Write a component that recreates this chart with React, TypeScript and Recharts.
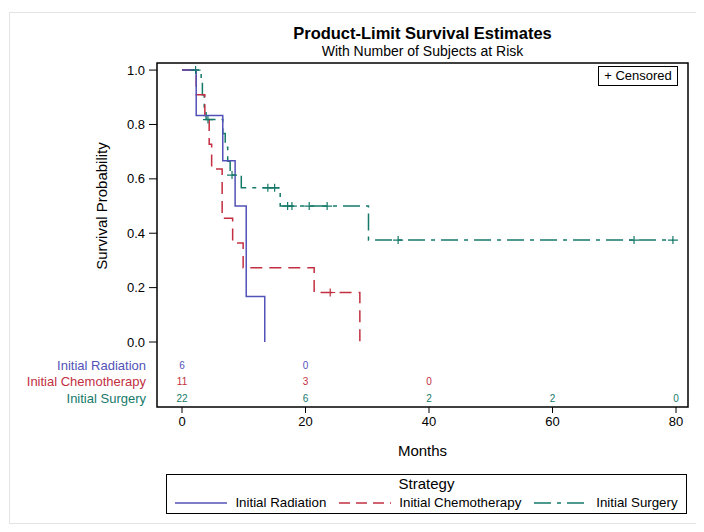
import { Line, LineChart, ReferenceArea, XAxis, YAxis } from 'recharts';

// Kaplan-Meier steps (months, survival)
const radiationTime = [0, 2.3, 6.6, 8.6, 10.4, 13.4];
const radiationSurv = [1, 0.833, 0.667, 0.5, 0.167, 0];
const radiationCensor: number[] = [];

const chemoTime = [0, 2.3, 3.7, 4.4, 4.8, 6.5, 8.2, 9.9, 21.4, 28.8];
const chemoSurv = [1, 0.909, 0.818, 0.727, 0.636, 0.455, 0.364, 0.273, 0.182, 0];
const chemoCensor = [24.0];

const surgeryTime = [0, 3.1, 3.3, 3.6, 3.9, 6.6, 7.0, 7.4, 7.8, 9.6, 15.9, 30.2];
const surgerySurv = [1, 0.955, 0.909, 0.864, 0.818, 0.767, 0.716, 0.665, 0.614, 0.567, 0.5, 0.375];
const surgeryCensor = [2.2, 4.2, 8.1, 13.9, 15.0, 17.1, 17.8, 20.6, 23.5, 35.0, 73.2, 79.5];

// number at risk
const riskTimes = [0, 20, 40, 60, 80];
const radiationRisk = [6, 0];
const chemoRisk = [11, 3, 0];
const surgeryRisk = [22, 6, 2, 2, 0];

const xTicks = [0, 20, 40, 60, 80];
const yTicks = [0, 0.2, 0.4, 0.6, 0.8, 1.0];

const BLUE = '#5252b8';
const RED = '#c22f41';
const GREEN = '#15796a';
const FONT = '"Liberation Sans", Arial, sans-serif';

const X_DOMAIN: [number, number] = [-4.05, 81.94];
const Y_DOMAIN: [number, number] = [-0.239, 1.026];

interface Pt {
  t: number;
  s: number;
  c: boolean;
}

function buildCurve(times: number[], surv: number[], censor: number[]): Pt[] {
  const pts: Pt[] = times.map((t, i) => ({ t, s: surv[i], c: false }));
  censor.forEach((t) => {
    let k = 0;
    times.forEach((tt, i) => {
      if (tt <= t) k = i;
    });
    pts.push({ t, s: surv[k], c: true });
  });
  return pts.sort((a, b) => a.t - b.t);
}

function riskRow(counts: number[], rowY: number) {
  return counts.map((n, i) => ({ t: riskTimes[i], s: rowY, n }));
}

const censorDot = (color: string) => (p: any) => {
  const { cx, cy, payload, index } = p;
  if (!payload || !payload.c) return <g key={`c${index}`} />;
  return (
    <path
      key={`c${index}`}
      d={`M${cx - 5},${cy}H${cx + 5}M${cx},${cy - 4}V${cy + 4}`}
      stroke={color}
      strokeWidth={1.2}
      strokeDasharray="none"
      fill="none"
    />
  );
};

const riskDot = (color: string, label: string) => (p: any) => {
  const { cx, cy, payload, index } = p;
  return (
    <g key={`r${index}`}>
      <text x={cx} y={cy} fill={color} fontSize={10} textAnchor="middle" dominantBaseline="central" fontFamily={FONT}>
        {payload.n}
      </text>
      {index === 0 && (
        <text x={cx - 36} y={cy} fill={color} fontSize={13} textAnchor="end" dominantBaseline="central" fontFamily={FONT}>
          {label}
        </text>
      )}
    </g>
  );
};

function LegendLine({ color, dash }: { color: string; dash?: string }) {
  return (
    <svg width={52} height={6} style={{ display: 'block' }}>
      <line x1={0} y1={3} x2={52} y2={3} stroke={color} strokeWidth={1.5} strokeDasharray={dash} />
    </svg>
  );
}

export default function App() {
  const radiation = buildCurve(radiationTime, radiationSurv, radiationCensor);
  const chemo = buildCurve(chemoTime, chemoSurv, chemoCensor);
  const surgery = buildCurve(surgeryTime, surgerySurv, surgeryCensor);

  return (
    <div style={{ position: 'relative', width: 688, height: 516, fontFamily: FONT, color: '#000' }}>
      <div
        style={{
          position: 'absolute',
          left: 1,
          top: 4,
          width: 688,
          height: 512,
          border: '1px solid #e4e4e4',
          boxSizing: 'border-box',
        }}
      />
      <div style={{ position: 'absolute', left: 149, top: 16, width: 531, textAlign: 'center', fontSize: 16.5, fontWeight: 'bold', lineHeight: '18px' }}>
        Product-Limit Survival Estimates
      </div>
      <div style={{ position: 'absolute', left: 149, top: 35, width: 531, textAlign: 'center', fontSize: 14, lineHeight: '16px' }}>
        With Number of Subjects at Risk
      </div>

      <LineChart width={688} height={516} margin={{ top: 55, right: 8, left: 89, bottom: 62 }} style={{ position: 'absolute', left: 0, top: 0 }}>
        <XAxis
          type="number"
          dataKey="t"
          domain={X_DOMAIN}
          ticks={xTicks}
          height={55}
          axisLine={false}
          tickSize={6}
          tickMargin={4}
          tickLine={{ stroke: '#000' }}
          tick={{ fill: '#000', fontSize: 13, fontFamily: FONT }}
        />
        <YAxis
          type="number"
          domain={Y_DOMAIN}
          ticks={yTicks}
          width={60}
          axisLine={false}
          tickSize={8}
          tickMargin={4}
          tickLine={{ stroke: '#000' }}
          tickFormatter={(v: number) => v.toFixed(1)}
          tick={{ fill: '#000', fontSize: 13, fontFamily: FONT }}
        />
        <ReferenceArea x1={X_DOMAIN[0]} x2={X_DOMAIN[1]} y1={Y_DOMAIN[0]} y2={Y_DOMAIN[1]} fill="none" stroke="#000" strokeWidth={1.5} />
        <Line
          data={surgery}
          dataKey="s"
          type="stepAfter"
          stroke={GREEN}
          strokeWidth={1.5}
          strokeDasharray="17 6 4 6"
          dot={censorDot(GREEN)}
          activeDot={false}
          isAnimationActive={false}
        />
        <Line
          data={chemo}
          dataKey="s"
          type="stepAfter"
          stroke={RED}
          strokeWidth={1.5}
          strokeDasharray="12 7"
          dot={censorDot(RED)}
          activeDot={false}
          isAnimationActive={false}
        />
        <Line
          data={radiation}
          dataKey="s"
          type="stepAfter"
          stroke={BLUE}
          strokeWidth={1.5}
          dot={censorDot(BLUE)}
          activeDot={false}
          isAnimationActive={false}
        />
        <Line data={riskRow(radiationRisk, -0.085)} dataKey="s" stroke="none" dot={riskDot(BLUE, 'Initial Radiation')} activeDot={false} isAnimationActive={false} />
        <Line data={riskRow(chemoRisk, -0.146)} dataKey="s" stroke="none" dot={riskDot(RED, 'Initial Chemotherapy')} activeDot={false} isAnimationActive={false} />
        <Line data={riskRow(surgeryRisk, -0.208)} dataKey="s" stroke="none" dot={riskDot(GREEN, 'Initial Surgery')} activeDot={false} isAnimationActive={false} />
      </LineChart>

      <div
        style={{
          position: 'absolute',
          left: 93,
          top: 198,
          transform: 'translate(-50%, -50%) rotate(-90deg)',
          whiteSpace: 'nowrap',
          fontSize: 15,
        }}
      >
        Survival Probability
      </div>
      <div style={{ position: 'absolute', left: 149, top: 434, width: 531, textAlign: 'center', fontSize: 15, lineHeight: '18px' }}>Months</div>

      <div
        style={{
          position: 'absolute',
          left: 590,
          top: 58,
          width: 80,
          height: 20,
          border: '1px solid #000',
          boxSizing: 'border-box',
          fontSize: 13,
          lineHeight: '18px',
          textAlign: 'center',
          background: '#fff',
        }}
      >
        + Censored
      </div>

      <div
        style={{
          position: 'absolute',
          left: 158,
          top: 466,
          width: 521,
          height: 40,
          border: '1px solid #000',
          boxSizing: 'border-box',
          fontSize: 13.3,
        }}
      >
        <div style={{ textAlign: 'center', fontSize: 15, lineHeight: '17px' }}>Strategy</div>
        <div style={{ display: 'flex', alignItems: 'center', justifyContent: 'center', lineHeight: '16px', marginTop: 3 }}>
          <LegendLine color={BLUE} />
          <span style={{ marginLeft: 8, marginRight: 13 }}>Initial Radiation</span>
          <LegendLine color={RED} dash="11 6" />
          <span style={{ marginLeft: 8, marginRight: 13 }}>Initial Chemotherapy</span>
          <LegendLine color={GREEN} dash="17 6 4 6" />
          <span style={{ marginLeft: 10 }}>Initial Surgery</span>
        </div>
      </div>
    </div>
  );
}
